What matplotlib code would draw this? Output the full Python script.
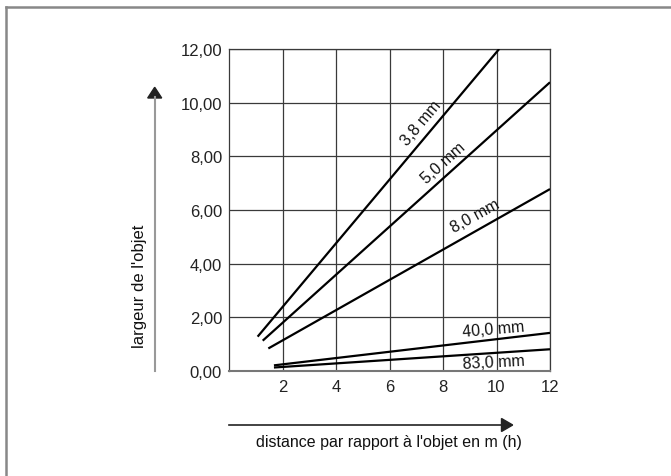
import matplotlib.pyplot as plt
from matplotlib.patches import FancyArrow

plt.rcParams['font.family'] = ['Liberation Sans', 'DejaVu Sans']

# focal lengths and the two end points
labels = ['3,8 mm', '5,0 mm', '8,0 mm', '40,0 mm', '83,0 mm']
x_start = [1.07, 1.26, 1.47, 1.68, 1.68]
y_start = [1.28, 1.13, 0.84, 0.21, 0.13]
x_end = [10.1, 12.0, 12.0, 12.0, 12.0]
y_end = [12.0, 10.76, 6.78, 1.42, 0.81]

# where each label sits and its angle
label_x = [7.20, 8.01, 9.20, 9.88, 9.88]
label_y = [9.27, 7.78, 5.78, 1.58, 0.34]
label_rot = [50, 42, 29, 5, 3]

x_ticks = [2, 4, 6, 8, 10, 12]
y_ticks = [0, 2, 4, 6, 8, 10, 12]
y_ticklabels = ['0,00', '2,00', '4,00', '6,00', '8,00', '10,00', '12,00']

W, H = 671, 477
fig = plt.figure(figsize=(W / 100, H / 100), dpi=100)

# outer frame: top and left only
fig.add_artist(plt.Line2D([6 / W, 6 / W], [0, 1 - 7.5 / H], color='#888888', lw=1.8,
                          transform=fig.transFigure))
fig.add_artist(plt.Line2D([6 / W, 1], [1 - 7.5 / H, 1 - 7.5 / H], color='#888888', lw=1.8,
                          transform=fig.transFigure))

ax = fig.add_axes([229 / W, 1 - 372 / H, 321 / W, 322 / H])
ax.set_xlim(0, 12)
ax.set_ylim(0, 12)

for i in range(len(labels)):
    ax.plot([x_start[i], x_end[i]], [y_start[i], y_end[i]], color='black', lw=1.6,
            solid_capstyle='butt', zorder=3)
    ax.text(label_x[i], label_y[i], labels[i], rotation=label_rot[i], fontsize=11.5,
            ha='center', va='center', rotation_mode='anchor', color='#111111', zorder=4)

ax.set_xticks(x_ticks)
ax.set_yticks(y_ticks)
ax.set_yticklabels(y_ticklabels)
ax.tick_params(length=0, labelsize=12, colors='#222222')
ax.tick_params(axis='y', pad=5)
ax.tick_params(axis='x', pad=6)
ax.grid(True, color='#3a3a3a', lw=0.9)
for s in ax.spines.values():
    s.set_color('#3a3a3a')
    s.set_linewidth(0.9)
ax.spines['bottom'].set_color('#777777')
ax.spines['bottom'].set_linewidth(1.5)

# vertical arrow on the left
fig.add_artist(plt.Line2D([154.7 / W, 154.7 / W], [1 - 372 / H, 1 - 98 / H], color='#999999',
                          lw=1.5, transform=fig.transFigure))
fig.add_artist(FancyArrow(154.7 / W, 1 - 99 / H, 0, 10.7 / H, width=0, head_width=14 / W,
                          head_length=10.7 / H, length_includes_head=True, color='#222222',
                          transform=fig.transFigure))
fig.text(139.5 / W, 1 - 286.5 / H, "largeur de l'objet", rotation=90, fontsize=12,
         ha='center', va='center', color='#111111')

# horizontal arrow at the bottom
fig.add_artist(plt.Line2D([229 / W, 502 / W], [1 - 426 / H, 1 - 426 / H], color='#222222',
                          lw=1.2, transform=fig.transFigure))
fig.add_artist(FancyArrow(501.5 / W, 1 - 426 / H, 11.2 / W, 0, width=0, head_width=13 / H,
                          head_length=11.2 / W, length_includes_head=True, color='#222222',
                          transform=fig.transFigure))
fig.text(389 / W, 1 - 442.5 / H, "distance par rapport à l'objet en m (h)", fontsize=11.5,
         ha='center', va='center', color='#111111')

fig.savefig('out.png', dpi=100)
